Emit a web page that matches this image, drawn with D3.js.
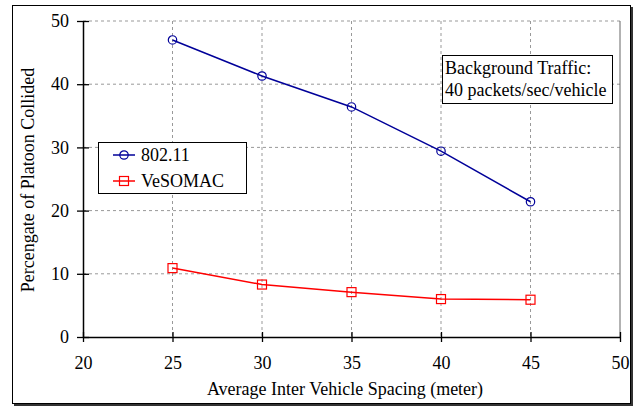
<!DOCTYPE html>
<html>
<head>
<meta charset="utf-8">
<script src="https://cdn.jsdelivr.net/npm/d3@7"></script>
<style>
  body { margin: 0; background: #fff; }
</style>
</head>
<body>
<svg id="chart" width="644" height="408"></svg>
<script>
// data
var spacing = [25, 30, 35, 40, 45];
var dot11 = [47.0, 41.3, 36.4, 29.4, 21.4];
var vesomac = [10.9, 8.3, 7.1, 6.0, 5.9];
var xTicks = [20, 25, 30, 35, 40, 45, 50];
var yTicks = [0, 10, 20, 30, 40, 50];

var serif = "'Liberation Serif', 'Times New Roman', serif";

var margin = {top: 21, right: 24, bottom: 71, left: 83},
    width = 644 - margin.left - margin.right,
    height = 408 - margin.top - margin.bottom;

var svg = d3.select("#chart");

// outer frame with a small shadow
svg.append("rect").attr("x", 14).attr("y", 7).attr("width", 619).attr("height", 399)
  .attr("fill", "#333");
svg.append("rect").attr("x", 12.5).attr("y", 5.5).attr("width", 618).attr("height", 398)
  .attr("fill", "#fff").attr("stroke", "#000").attr("stroke-width", 1);

var g = svg.append("g").attr("transform", "translate(" + margin.left + "," + margin.top + ")");

var x = d3.scaleLinear().domain([20, 50]).range([0, width]),
    y = d3.scaleLinear().domain([0, 50]).range([height, 0]);

// grid
g.selectAll(".vgrid").data(xTicks.filter(function(d){ return d > 20 && d < 50; }))
  .enter().append("line")
  .attr("x1", function(d){ return x(d); }).attr("x2", function(d){ return x(d); })
  .attr("y1", 0).attr("y2", height)
  .attr("stroke", "#999").attr("stroke-dasharray", "3,3");
g.selectAll(".hgrid").data(yTicks.filter(function(d){ return d > 0; }))
  .enter().append("line")
  .attr("x1", 0).attr("x2", width)
  .attr("y1", function(d){ return y(d); }).attr("y2", function(d){ return y(d); })
  .attr("stroke", "#999").attr("stroke-dasharray", "3,3");
// right edge of plot
g.append("line").attr("x1", width).attr("x2", width).attr("y1", 0).attr("y2", height)
  .attr("stroke", "#666");

// axes
var xAxis = g.append("g").attr("transform", "translate(0," + height + ")")
  .call(d3.axisBottom(x).tickValues(xTicks).tickSizeInner(5).tickSizeOuter(0).tickPadding(14));
xAxis.selectAll(".tick line").attr("y1", -5).attr("stroke-width", 1.3);
var yAxis = g.append("g")
  .call(d3.axisLeft(y).tickValues(yTicks).tickSizeInner(6).tickSizeOuter(0).tickPadding(8));
yAxis.selectAll(".tick line").attr("x1", 6).attr("x2", -6).attr("stroke-width", 1.3);
g.selectAll(".domain").attr("stroke-width", 1.5);
xAxis.attr("font-family", serif).attr("font-size", 18);
yAxis.attr("font-family", serif).attr("font-size", 18);

// series
var series = [
  {name: "802.11", values: dot11, color: "#000099", shape: "circle"},
  {name: "VeSOMAC", values: vesomac, color: "#ff0000", shape: "square"}
];

var line = d3.line()
  .x(function(d, i){ return x(spacing[i]); })
  .y(function(d){ return y(d); });

function marker(sel, s, cx, cy) {
  if (s.shape === "circle") {
    sel.append("circle").attr("cx", cx).attr("cy", cy).attr("r", 4.2)
      .attr("fill", "none").attr("stroke", s.color).attr("stroke-width", 1.2);
  } else {
    sel.append("rect").attr("x", cx - 4.5).attr("y", cy - 4.5).attr("width", 9).attr("height", 9)
      .attr("fill", "none").attr("stroke", s.color).attr("stroke-width", 1.2);
  }
}

series.forEach(function(s){
  g.append("path").datum(s.values).attr("d", line)
    .attr("fill", "none").attr("stroke", s.color).attr("stroke-width", 1.5);
  s.values.forEach(function(v, i){ marker(g, s, x(spacing[i]), y(v)); });
});

// legend
var lg = svg.append("g").attr("transform", "translate(98,142)")
  .attr("font-family", serif).attr("font-size", 18);
lg.append("rect").attr("x", 0.5).attr("y", 0.5).attr("width", 148).attr("height", 51)
  .attr("fill", "#fff").attr("stroke", "#000");
series.forEach(function(s, i){
  var ly = 13 + i * 26;
  lg.append("line").attr("x1", 15).attr("x2", 37).attr("y1", ly).attr("y2", ly)
    .attr("stroke", s.color).attr("stroke-width", 1.5);
  marker(lg, s, 26, ly);
  lg.append("text").attr("x", 43).attr("y", ly + 6).text(s.name);
});

// annotation
var an = svg.append("g").attr("transform", "translate(442,55)")
  .attr("font-family", serif).attr("font-size", 18);
an.append("rect").attr("x", 0.5).attr("y", 0.5).attr("width", 170).attr("height", 48)
  .attr("fill", "#fff").attr("stroke", "#000");
an.append("text").attr("x", 3).attr("y", 19).text("Background Traffic:");
an.append("text").attr("x", 3).attr("y", 41).text("40 packets/sec/vehicle");

// axis titles
svg.append("text").attr("x", 345).attr("y", 395)
  .attr("text-anchor", "middle").attr("font-family", serif).attr("font-size", 18)
  .text("Average Inter Vehicle Spacing (meter)");
svg.append("text").attr("transform", "translate(34,180) rotate(-90)")
  .attr("text-anchor", "middle").attr("font-family", serif).attr("font-size", 18)
  .text("Percengate of Platoon Collided");
</script>
</body>
</html>
